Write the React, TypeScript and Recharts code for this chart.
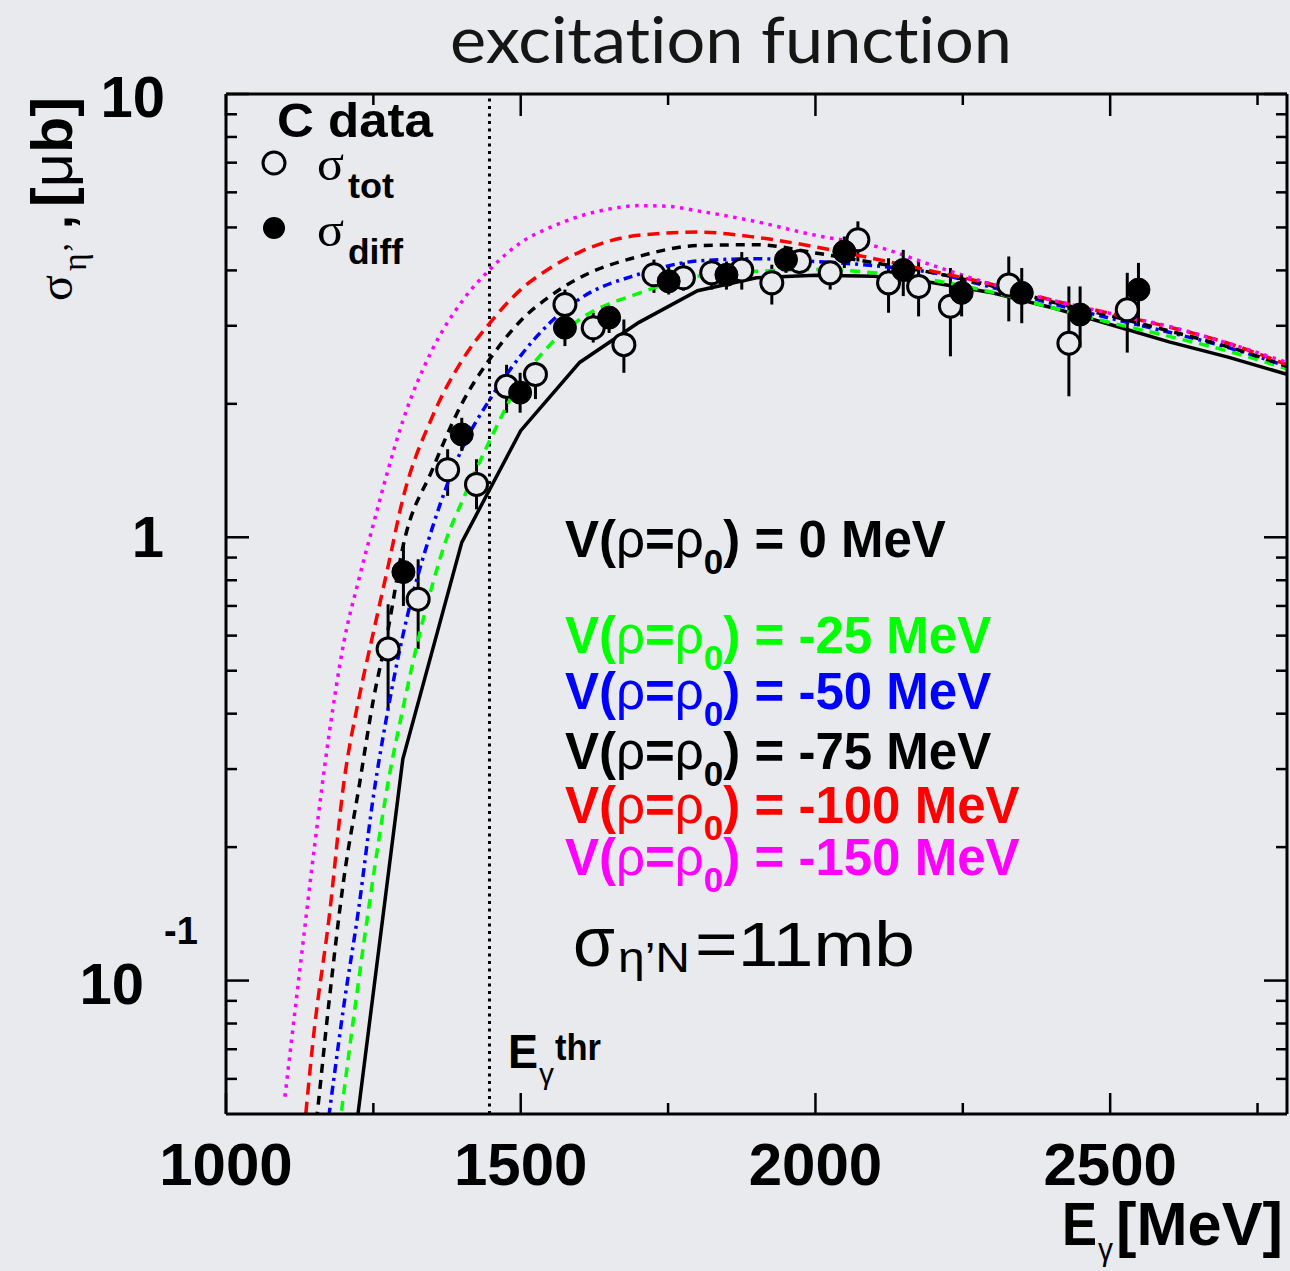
import React from 'react';
import { ComposedChart, Line, Scatter, XAxis, YAxis, ErrorBar, ReferenceLine } from 'recharts';

const BG = '#e8eaee';
const SANS = '"Liberation Sans", Arial, Helvetica, sans-serif';
const SERIF = '"Liberation Serif", "Times New Roman", serif';

// ---------- model curves (E in MeV, sigma in microbarn) ----------
const E_V0 = [1200, 1300, 1400, 1500, 1600, 1700, 1800, 1900, 2000, 2100, 2200, 2300, 2400, 2500, 2600, 2700, 2800];
const S_V0 = [0.028, 0.316, 0.974, 1.74, 2.48, 3.05, 3.6, 3.85, 3.9, 3.88, 3.75, 3.56, 3.3, 3.02, 2.76, 2.55, 2.33];

const E_V25 = [1175, 1200, 1225, 1250, 1275, 1300, 1325, 1350, 1375, 1400, 1450, 1500, 1550, 1600, 1700, 1800, 1900, 2000, 2100, 2200, 2300, 2400, 2500, 2600, 2700, 2800];
const S_V25 = [0.03, 0.056, 0.1, 0.172, 0.28, 0.41, 0.58, 0.78, 1.0, 1.2, 1.68, 2.25, 2.72, 3.1, 3.55, 3.88, 3.98, 4.02, 3.95, 3.8, 3.57, 3.3, 3.05, 2.84, 2.63, 2.4];

const E_V50 = [1150, 1175, 1200, 1225, 1250, 1275, 1300, 1350, 1400, 1450, 1500, 1550, 1600, 1700, 1800, 1900, 2000, 2100, 2200, 2300, 2400, 2500, 2600, 2700, 2800];
const S_V50 = [0.028, 0.05, 0.088, 0.145, 0.26, 0.41, 0.6, 1.05, 1.58, 2.07, 2.57, 3.05, 3.45, 3.92, 4.2, 4.25, 4.19, 4.1, 3.95, 3.66, 3.37, 3.12, 2.9, 2.68, 2.43];

const E_V75 = [1125, 1150, 1175, 1200, 1225, 1250, 1275, 1300, 1350, 1400, 1450, 1500, 1550, 1600, 1700, 1800, 1900, 2000, 2100, 2200, 2300, 2400, 2500, 2600, 2700, 2800];
const S_V75 = [0.025, 0.044, 0.09, 0.17, 0.27, 0.43, 0.62, 0.95, 1.42, 2.0, 2.55, 3.08, 3.5, 3.85, 4.3, 4.55, 4.57, 4.38, 4.16, 3.95, 3.69, 3.4, 3.16, 2.92, 2.69, 2.43];

const E_V100 = [1100, 1125, 1150, 1175, 1200, 1225, 1250, 1275, 1300, 1350, 1400, 1450, 1500, 1550, 1600, 1700, 1800, 1900, 2000, 2100, 2200, 2300, 2400, 2500, 2600, 2700, 2800];
const S_V100 = [0.017, 0.036, 0.078, 0.139, 0.28, 0.43, 0.61, 0.86, 1.22, 1.87, 2.5, 3.07, 3.62, 4.05, 4.4, 4.8, 4.88, 4.75, 4.52, 4.25, 3.98, 3.72, 3.43, 3.2, 2.98, 2.74, 2.45];

const E_V150 = [1100, 1125, 1150, 1175, 1200, 1225, 1250, 1275, 1300, 1350, 1400, 1450, 1500, 1550, 1600, 1650, 1700, 1750, 1800, 1900, 2000, 2100, 2200, 2300, 2400, 2500, 2600, 2700, 2800];
const S_V150 = [0.0547, 0.105, 0.2, 0.36, 0.58, 0.8, 1.07, 1.42, 1.83, 2.65, 3.4, 4.05, 4.62, 5.0, 5.3, 5.5, 5.6, 5.58, 5.45, 5.15, 4.8, 4.54, 4.1, 3.72, 3.43, 3.2, 2.99, 2.74, 2.48];

// ---------- C data ----------
const TOT_E = [1275, 1326, 1376, 1425, 1476, 1525, 1575, 1623, 1675, 1726, 1776, 1824, 1875, 1926, 1973, 2025, 2072, 2124, 2175, 2229, 2328, 2430, 2529];
const TOT_S = [0.56, 0.725, 1.42, 1.316, 2.19, 2.33, 3.35, 2.97, 2.72, 3.91, 3.85, 3.95, 4.01, 3.75, 4.19, 3.95, 4.69, 3.75, 3.68, 3.32, 3.71, 2.74, 3.26];
const TOT_LO = [0.41, 0.56, 1.24, 1.156, 1.91, 2.05, 3.1, 2.75, 2.35, 3.56, 3.6, 3.62, 3.62, 3.35, 4.01, 3.62, 4.19, 3.21, 3.15, 2.56, 3.07, 2.08, 2.61];
const TOT_HI = [0.706, 0.892, 1.58, 1.5, 2.45, 2.48, 3.62, 3.21, 3.1, 4.23, 4.17, 4.2, 4.4, 4.12, 4.45, 4.19, 5.16, 4.26, 4.19, 4.05, 4.3, 3.68, 3.95];

const DIFF_E = [1301, 1400, 1499, 1575, 1650, 1751, 1849, 1950, 2049, 2149, 2248, 2350, 2449, 2548];
const DIFF_S = [0.835, 1.706, 2.12, 2.97, 3.13, 3.78, 3.91, 4.23, 4.41, 4.01, 3.56, 3.56, 3.18, 3.62];
const DIFF_LO = [0.7, 1.565, 1.91, 2.7, 2.89, 3.53, 3.62, 3.95, 4.05, 3.5, 3.15, 3.04, 2.68, 2.99];
const DIFF_HI = [0.973, 1.86, 2.35, 3.21, 3.32, 4.08, 4.19, 4.49, 4.77, 4.45, 3.91, 4.05, 3.68, 4.16];

const E_THR = 1447;

// ---------- axes ----------
const X_DOMAIN = [1000, 2800];
const X_TICKS = [1000, 1250, 1500, 1750, 2000, 2250, 2500, 2750];
const X_LABELS = [1000, 1500, 2000, 2500];
const Y_DOMAIN = [0.05, 10];
const Y_TICKS = [0.06, 0.07, 0.08, 0.09, 0.1, 0.2, 0.3, 0.4, 0.5, 0.6, 0.7, 0.8, 0.9, 1, 2, 3, 4, 5, 6, 7, 8, 9, 10];

const mkCurve = (E: number[], S: number[]) => E.map((e, i) => ({ E: e, s: S[i] }));
const mkPts = (E: number[], S: number[], LO: number[], HI: number[]) =>
  E.map((e, i) => ({ E: e, s: S[i], err: [S[i] - LO[i], HI[i] - S[i]] }));

const isMajorY = (v: number) => Math.abs(Math.log10(v) - Math.round(Math.log10(v))) < 1e-6;

const TICK_W = 2.5;

const XTickBottom = (p: any) => {
  const { x, y, payload } = p;
  const v = payload.value;
  const major = X_LABELS.includes(v);
  return (
    <g>
      <line x1={x} x2={x} y1={y} y2={y - (major ? 21 : 11)} stroke="#000" strokeWidth={TICK_W} />
      {major && (
        <text x={x} y={y + 71} textAnchor="middle" fontFamily={SANS} fontWeight="bold" fontSize={60} fill="#000">
          {v}
        </text>
      )}
    </g>
  );
};

const XTickTop = (p: any) => {
  const { x, y, payload } = p;
  const major = X_LABELS.includes(payload.value);
  return <line x1={x} x2={x} y1={y} y2={y + (major ? 22 : 11)} stroke="#000" strokeWidth={TICK_W} />;
};

const YTickLeft = (p: any) => {
  const { x, y, payload } = p;
  const v = payload.value;
  const major = isMajorY(v);
  let label: React.ReactNode = null;
  if (v === 10) {
    label = (
      <text x={x - 61} y={y + 23} textAnchor="end" fontFamily={SANS} fontWeight="bold" fontSize={58} fill="#000">10</text>
    );
  } else if (v === 1) {
    label = (
      <text x={x - 62} y={y + 20} textAnchor="end" fontFamily={SANS} fontWeight="bold" fontSize={58} fill="#000">1</text>
    );
  } else if (Math.abs(v - 0.1) < 1e-9) {
    label = (
      <g>
        <text x={x - 82} y={y + 23} textAnchor="end" fontFamily={SANS} fontWeight="bold" fontSize={58} fill="#000">10</text>
        <text x={x - 62} y={y - 37} textAnchor="start" fontFamily={SANS} fontWeight="bold" fontSize={38} fill="#000">-1</text>
      </g>
    );
  }
  return (
    <g>
      <line x1={x} x2={x + (major ? 23 : 11)} y1={y} y2={y} stroke="#000" strokeWidth={TICK_W} />
      {label}
    </g>
  );
};

const YTickRight = (p: any) => {
  const { x, y, payload } = p;
  const major = isMajorY(payload.value);
  return <line x1={x} x2={x - (major ? 23 : 11)} y1={y} y2={y} stroke="#000" strokeWidth={TICK_W} />;
};

const OpenDot = (p: any) => (
  <circle cx={p.cx} cy={p.cy} r={11} fill={BG} stroke="#000" strokeWidth={3} />
);
const FilledDot = (p: any) => <circle cx={p.cx} cy={p.cy} r={11.5} fill="#000" stroke="#000" strokeWidth={1} />;

const AXIS_LINE = { stroke: '#000', strokeWidth: 3 };

const Overlay = () => (
  <svg
    width={1290}
    height={1271}
    style={{ position: 'absolute', left: 0, top: 0, pointerEvents: 'none' }}
  >
    {/* title */}
    <text
      x={450}
      y={63}
      fontFamily='Lato, "Open Sans", sans-serif'
      fontSize={64}
      fill="#151515"
      textLength={562}
      lengthAdjust="spacingAndGlyphs"
      style={{ fontVariantLigatures: 'none' }}
    >
      excitation function
    </text>

    {/* y axis title */}
    <g transform="translate(72,301) rotate(-90)">
      <text x={0} y={0} fontFamily={SERIF} fontSize={48} fill="#000">σ</text>
      <text x={30} y={14} fontFamily={SERIF} fontSize={34} fill="#000">η’</text>
      <text x={72} y={0} fontFamily={SANS} fontWeight="bold" fontSize={50} fill="#000">,</text>
      <text x={94} y={0} fontFamily={SANS} fontWeight="bold" fontSize={58} fill="#000" textLength={110} lengthAdjust="spacingAndGlyphs">
        [<tspan fontWeight="normal">μ</tspan>b]
      </text>
    </g>

    {/* x axis title */}
    <text x={1062} y={1245} fontFamily={SANS} fontWeight="bold" fontSize={62} fill="#000" textLength={35} lengthAdjust="spacingAndGlyphs">E</text>
    <text x={1098} y={1260} fontFamily={SANS} fontSize={32} fill="#000" textLength={15} lengthAdjust="spacingAndGlyphs">γ</text>
    <text x={1116} y={1245} fontFamily={SANS} fontWeight="bold" fontSize={62} fill="#000" textLength={167} lengthAdjust="spacingAndGlyphs">[MeV]</text>

    {/* legend */}
    <text x={277} y={137} fontFamily={SANS} fontWeight="bold" fontSize={48} fill="#000" textLength={156} lengthAdjust="spacingAndGlyphs">C data</text>
    <circle cx={274} cy={163} r={11} fill="none" stroke="#000" strokeWidth={3} />
    <text x={317} y={180} fontFamily={SERIF} fontSize={48} fill="#000" textLength={27} lengthAdjust="spacingAndGlyphs">σ</text>
    <text x={348} y={198} fontFamily={SANS} fontWeight="bold" fontSize={35} fill="#000" textLength={46} lengthAdjust="spacingAndGlyphs">tot</text>
    <circle cx={274} cy={228} r={11} fill="#000" />
    <text x={317} y={246} fontFamily={SERIF} fontSize={48} fill="#000" textLength={27} lengthAdjust="spacingAndGlyphs">σ</text>
    <text x={348} y={264} fontFamily={SANS} fontWeight="bold" fontSize={35} fill="#000" textLength={55} lengthAdjust="spacingAndGlyphs">diff</text>

    {/* potential labels */}
    {[
      { t: '0', c: '#000000', y: 557 },
      { t: '-25', c: '#00ff00', y: 653 },
      { t: '-50', c: '#0000ff', y: 709 },
      { t: '-75', c: '#000000', y: 769 },
      { t: '-100', c: '#ff0000', y: 823 },
      { t: '-150', c: '#ff00ff', y: 875 },
    ].map((r) => (
      <text key={r.t} x={565} y={r.y} fontFamily={SANS} fontWeight="bold" fontSize={51} fill={r.c}>
        V(<tspan fontWeight="normal">ρ</tspan>=<tspan fontWeight="normal">ρ</tspan>
        <tspan fontSize={35} dy={17}>0</tspan>
        <tspan dy={-17}>) = {r.t} MeV</tspan>
      </text>
    ))}

    {/* sigma eta'N */}
    <text x={573} y={966} fontFamily={SANS} fontSize={70} fill="#000" textLength={42} lengthAdjust="spacingAndGlyphs">σ</text>
    <text x={618} y={972} fontFamily={SANS} fontSize={42} fill="#000" textLength={72} lengthAdjust="spacingAndGlyphs">η’N</text>
    <text x={695} y={966} fontFamily={SANS} fontSize={63} fill="#000" textLength={220} lengthAdjust="spacingAndGlyphs">=11mb</text>

    {/* threshold label */}
    <text x={508} y={1068} fontFamily={SANS} fontWeight="bold" fontSize={48} fill="#000" textLength={30} lengthAdjust="spacingAndGlyphs">E</text>
    <text x={539} y={1084} fontFamily={SANS} fontSize={30} fill="#000" textLength={15} lengthAdjust="spacingAndGlyphs">γ</text>
    <text x={555} y={1060} fontFamily={SANS} fontWeight="bold" fontSize={36} fill="#000" textLength={46} lengthAdjust="spacingAndGlyphs">thr</text>
  </svg>
);

export default function App() {
  const totPts = mkPts(TOT_E, TOT_S, TOT_LO, TOT_HI);
  const diffPts = mkPts(DIFF_E, DIFF_S, DIFF_LO, DIFF_HI);
  const common = { xAxisId: 'b', yAxisId: 'l', isAnimationActive: false, dot: false, activeDot: false, strokeWidth: 3.5 } as any;
  return (
    <div style={{ position: 'absolute', left: 0, top: 0, width: 1290, height: 1271, background: BG, overflow: 'hidden' }}>
      <ComposedChart width={1290} height={1271} margin={{ top: 0, right: 0, bottom: 0, left: 0 }}>
        <XAxis
          xAxisId="b"
          type="number"
          dataKey="E"
          orientation="bottom"
          domain={X_DOMAIN}
          allowDataOverflow
          ticks={X_TICKS}
          interval={0}
          height={157}
          axisLine={AXIS_LINE}
          tickLine={false}
          tickSize={0}
          tickMargin={0}
          tick={(p: any) => <XTickBottom {...p} />}
        />
        <XAxis
          xAxisId="t"
          type="number"
          dataKey="E"
          orientation="top"
          domain={X_DOMAIN}
          allowDataOverflow
          ticks={X_TICKS}
          interval={0}
          height={94}
          axisLine={AXIS_LINE}
          tickLine={false}
          tickSize={0}
          tickMargin={0}
          tick={(p: any) => <XTickTop {...p} />}
        />
        <YAxis
          yAxisId="l"
          type="number"
          scale="log"
          orientation="left"
          domain={Y_DOMAIN}
          allowDataOverflow
          ticks={Y_TICKS}
          interval={0}
          width={226}
          axisLine={AXIS_LINE}
          tickLine={false}
          tickSize={0}
          tickMargin={0}
          tick={(p: any) => <YTickLeft {...p} />}
        />
        <YAxis
          yAxisId="r"
          type="number"
          scale="log"
          orientation="right"
          domain={Y_DOMAIN}
          allowDataOverflow
          ticks={Y_TICKS}
          interval={0}
          width={3}
          axisLine={AXIS_LINE}
          tickLine={false}
          tickSize={0}
          tickMargin={0}
          tick={(p: any) => <YTickRight {...p} />}
        />
        <ReferenceLine xAxisId="b" yAxisId="l" x={E_THR} stroke="#000" strokeWidth={3} strokeDasharray="3 4.5" />
        <Scatter xAxisId="b" yAxisId="l" data={totPts} dataKey="s" shape={OpenDot} isAnimationActive={false}>
          <ErrorBar dataKey="err" direction="y" width={0} stroke="#000" strokeWidth={3} isAnimationActive={false} />
        </Scatter>
        <Line {...common} data={mkCurve(E_V0, S_V0)} dataKey="s" type="linear" stroke="#000000" />
        <Line {...common} data={mkCurve(E_V25, S_V25)} dataKey="s" type="monotone" stroke="#00ff00" strokeDasharray="10 7" />
        <Line {...common} data={mkCurve(E_V50, S_V50)} dataKey="s" type="monotone" stroke="#0000ff" strokeDasharray="9 5 3 5" />
        <Line {...common} data={mkCurve(E_V75, S_V75)} dataKey="s" type="monotone" stroke="#000000" strokeDasharray="9 7" />
        <Line {...common} data={mkCurve(E_V100, S_V100)} dataKey="s" type="monotone" stroke="#ff0000" strokeDasharray="12 7" />
        <Line {...common} data={mkCurve(E_V150, S_V150)} dataKey="s" type="monotone" stroke="#ff00ff" strokeDasharray="3.5 5.5" />
        <Scatter xAxisId="b" yAxisId="l" data={diffPts} dataKey="s" shape={FilledDot} isAnimationActive={false}>
          <ErrorBar dataKey="err" direction="y" width={0} stroke="#000" strokeWidth={3} isAnimationActive={false} />
        </Scatter>
      </ComposedChart>
      <Overlay />
    </div>
  );
}
